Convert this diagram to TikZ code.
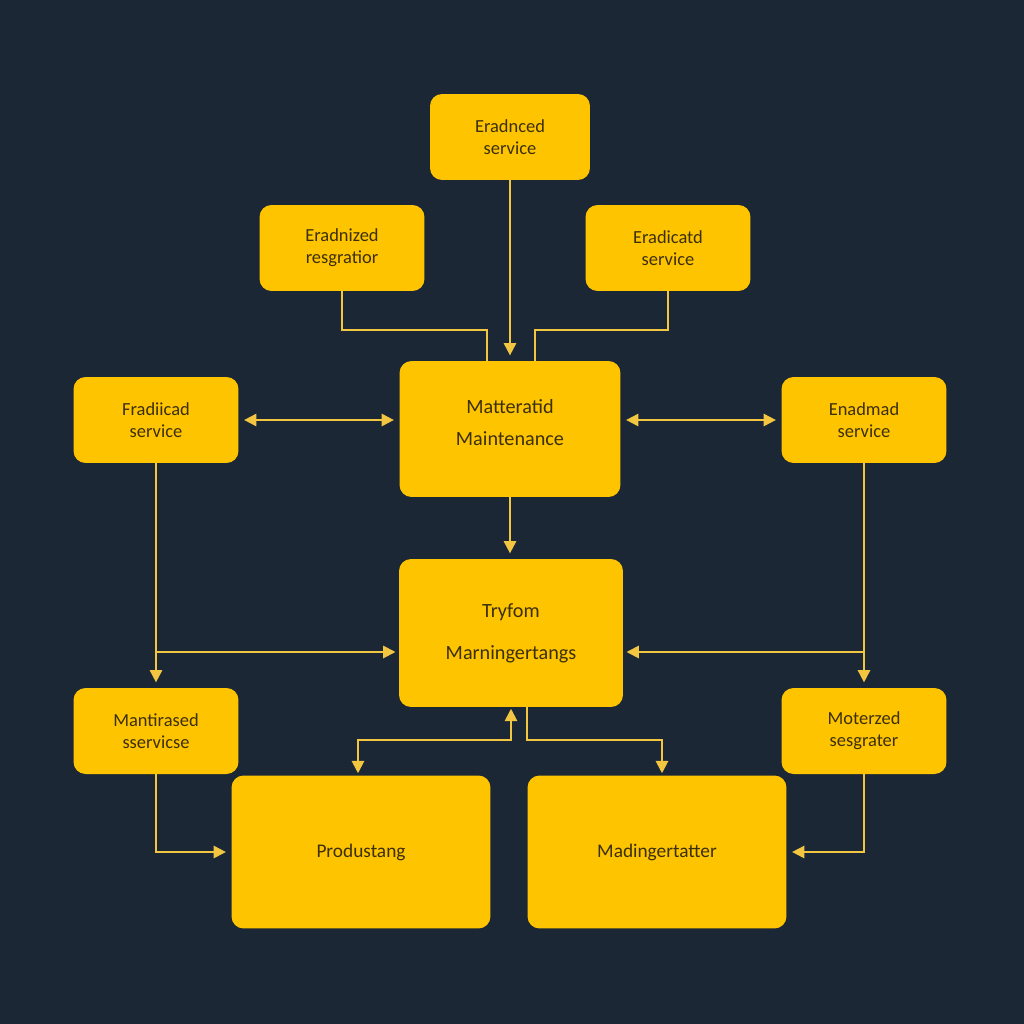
\documentclass[tikz,border=0pt]{standalone}
\usepackage{fontspec}
\setmainfont{Carlito}
\usepackage{xcolor}
\usetikzlibrary{arrows.meta}
\definecolor{navy}{HTML}{1C2736}
\definecolor{amber}{HTML}{FFC400}
\definecolor{wire}{HTML}{F2C640}
\definecolor{ink}{HTML}{3B2F0C}

\begin{document}
\begin{tikzpicture}[x=0.02cm, y=-0.02cm,
    box/.style={rectangle, rounded corners=0.24cm, fill=amber, text=ink, align=center, inner sep=0pt, font=\fontsize{10.5}{12.5}\selectfont},
    small/.style={box, minimum width=3.3cm, minimum height=1.72cm},
    big/.style={box, minimum width=5.18cm, minimum height=3.06cm, font=\fontsize{11}{13}\selectfont},
    link/.style={draw=wire, line width=1.1pt, -{Triangle[length=7pt,width=7pt]}},
    plain/.style={draw=wire, line width=1.1pt},
    biLink/.style={link, {Triangle[length=7pt,width=7pt]}-{Triangle[length=7pt,width=7pt]}}
]
    \fill[navy] (0,0) rectangle (1024,1024);

    \node[small, minimum width=3.2cm] (top) at (510,137) {Eradnced\\service};
    \node[small] (regL) at (342,248) {Eradnized\\resgratior};
    \node[small] (regR) at (668,248) {Eradicatd\\service};
    \node[small] (servL) at (156,420) {Fradiicad\\service};
    \node[small] (servR) at (864,420) {Enadmad\\service};
    \node[box, minimum width=4.42cm, minimum height=2.72cm, font=\fontsize{11.5}{18}\selectfont] (main) at (510,429) {Matteratid\\Maintenance\\[-0.36cm]};
    \node[box, minimum width=4.48cm, minimum height=2.96cm, font=\fontsize{11.5}{24}\selectfont] (tryfom) at (511,633) {Tryfom\\Marningertangs};
    \node[small] (mantL) at (156,731) {Mantirased\\sservicse};
    \node[small] (motR) at (864,731) {Moterzed\\sesgrater};
    \node[big] (prod) at (361,852) {Produstang};
    \node[big] (madi) at (657,852) {Madingertatter};

    % joints
    \coordinate (jL) at (487,330);
    \coordinate (mL) at (487,361);
    \coordinate (jR) at (535,330);
    \coordinate (mR) at (535,361);
    \coordinate (bL) at (155,652);
    \coordinate (tL) at (399,652);
    \coordinate (bR) at (864,652);
    \coordinate (tR) at (623,652);
    \coordinate (tB1) at (511,707);
    \coordinate (kB1) at (511,740);
    \coordinate (kP) at (358,740);
    \coordinate (pT) at (358,775);
    \coordinate (tB2) at (527,707);
    \coordinate (kB2) at (527,740);
    \coordinate (kM) at (662,740);
    \coordinate (mT) at (662,775);

    \draw[link, shorten >=3pt] (top) -- (main);
    \draw[plain] (regL.south) |- (jL) -- (mL);
    \draw[plain] (regR.south) |- (jR) -- (mR);
    \draw[biLink, shorten <=3pt, shorten >=3pt] (servL.east) -- (servL.east -| main.west);
    \draw[biLink, shorten <=3pt, shorten >=3pt] (main.east |- servR.west) -- (servR.west);
    \draw[link, shorten >=3pt] (main.south) -- (main.south |- tryfom.north);
    \draw[link, shorten >=3pt] (servL.south) -- (mantL.north);
    \draw[link, shorten >=3pt] (servR.south) -- (motR.north);
    \draw[link, shorten >=2pt] (bL) -- (tL);
    \draw[link, shorten >=2pt] (bR) -- (tR);
    \draw[biLink, shorten <=1pt, shorten >=1pt] (pT) -- (kP) -- (kB1) -- (tB1);
    \draw[link, shorten >=1pt] (tB2) -- (kB2) -- (kM) -- (mT);
    \draw[link, shorten >=3pt] (mantL.south) |- (prod.west);
    \draw[link, shorten >=3pt] (motR.south) |- (madi.east);
\end{tikzpicture}
\end{document}
